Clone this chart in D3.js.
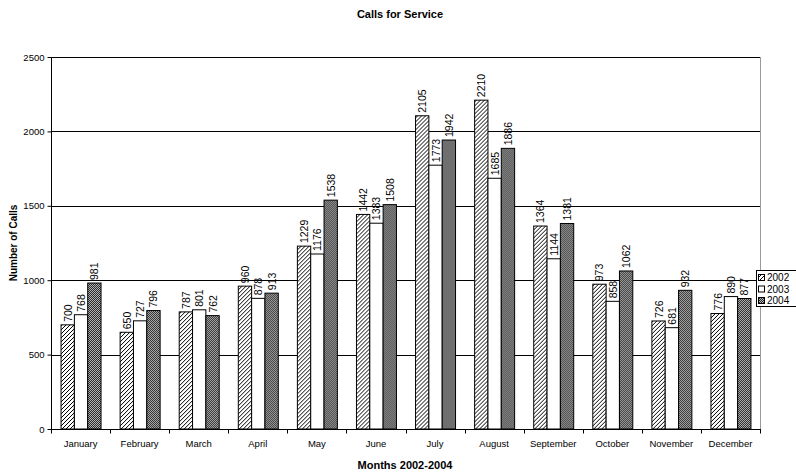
<!DOCTYPE html>
<html>
<head>
<meta charset="utf-8">
<script src="https://cdn.jsdelivr.net/npm/d3@7"></script>
<style>
  html, body { margin: 0; padding: 0; background: #fff; }
  svg { display: block; font-family: "Liberation Sans", Arial, sans-serif; }
</style>
</head>
<body>
<svg id="chart" width="796" height="476"></svg>
<script>
// Monthly calls for service, one series per year
const months = ["January", "February", "March", "April", "May", "June",
                "July", "August", "September", "October", "November", "December"];
const years = ["2002", "2003", "2004"];
const calls2002 = [700, 650, 787, 960, 1229, 1442, 2105, 2210, 1364, 973, 726, 776];
const calls2003 = [768, 727, 801, 878, 1176, 1383, 1773, 1685, 1144, 858, 681, 890];
const calls2004 = [981, 796, 762, 913, 1538, 1508, 1942, 1886, 1381, 1062, 932, 877];
const yTicks = [0, 500, 1000, 1500, 2000, 2500];

const series = [calls2002, calls2003, calls2004];

const svg = d3.select("#chart");
const plot = { left: 51, top: 57, right: 760, bottom: 429 };

// Fill patterns: diagonal hatch, plain white, dense dark dots
const defs = svg.append("defs");
const hatch = defs.append("pattern").attr("id", "hatch")
  .attr("patternUnits", "userSpaceOnUse").attr("width", 4).attr("height", 4);
hatch.append("rect").attr("width", 4).attr("height", 4).attr("fill", "#fff");
hatch.append("path").attr("d", "M-1,1 L1,-1 M0,4 L4,0 M3,5 L5,3")
  .attr("stroke", "#000").attr("stroke-width", 1);

const dots = defs.append("pattern").attr("id", "dots")
  .attr("patternUnits", "userSpaceOnUse").attr("width", 2).attr("height", 2);
dots.append("rect").attr("width", 2).attr("height", 2).attr("fill", "#b4b4b4");
dots.append("rect").attr("x", 0).attr("y", 0).attr("width", 1).attr("height", 1).attr("fill", "#2a2a2a");
dots.append("rect").attr("x", 1).attr("y", 1).attr("width", 1).attr("height", 1).attr("fill", "#2a2a2a");

const fills = ["url(#hatch)", "#fff", "url(#dots)"];

const x0 = d3.scaleBand().domain(months).range([plot.left, plot.right]).padding(0);
const groupW = x0.bandwidth();
const barW = groupW * 0.2256;
const x1 = d3.scaleBand().domain(d3.range(years.length))
  .range([(groupW - 3 * barW) / 2, (groupW + 3 * barW) / 2]).padding(0);
const y = d3.scaleLinear().domain([0, 2500]).range([plot.bottom, plot.top]);

// Gridlines
svg.append("g").selectAll("line").data(yTicks.filter(t => t > 0)).join("line")
  .attr("x1", plot.left).attr("x2", plot.right)
  .attr("y1", d => Math.round(y(d)) + 0.5).attr("y2", d => Math.round(y(d)) + 0.5)
  .attr("stroke", "#000").attr("stroke-width", 1);

// Plot area right edge
svg.append("line")
  .attr("x1", plot.right + 0.5).attr("x2", plot.right + 0.5)
  .attr("y1", plot.top).attr("y2", plot.bottom)
  .attr("stroke", "#9a9a9a").attr("stroke-width", 1);

// Bars
const groups = svg.append("g").selectAll("g").data(months).join("g")
  .attr("transform", d => `translate(${x0(d)},0)`);

groups.selectAll("rect")
  .data((m, i) => series.map((s, k) => ({ k, v: s[i] })))
  .join("rect")
  .attr("x", d => x1(d.k) + 0.5)
  .attr("y", d => y(d.v))
  .attr("width", x1.bandwidth())
  .attr("height", d => plot.bottom - y(d.v))
  .attr("fill", d => fills[d.k])
  .attr("stroke", "#000").attr("stroke-width", 1);

// Value labels
groups.selectAll("text")
  .data((m, i) => series.map((s, k) => ({ k, v: s[i] })))
  .join("text")
  .attr("transform", d => `translate(${x1(d.k) + x1.bandwidth() / 2 + 4.5},${y(d.v) - 3}) rotate(-90)`)
  .attr("font-size", 10.5).attr("fill", "#000")
  .text(d => d.v);

// Y axis
const yAxis = svg.append("g").attr("transform", `translate(${plot.left + 0.5},0)`)
  .call(d3.axisLeft(y).tickValues(yTicks).tickSize(4).tickPadding(3).tickFormat(d3.format("d")));
yAxis.select(".domain").attr("stroke", "#000").attr("d", `M0,${plot.top}V${plot.bottom + 0.5}`);
yAxis.selectAll(".tick line").attr("stroke", "#000");
yAxis.selectAll(".tick text").attr("font-size", 9.5).attr("fill", "#000")
  .attr("font-family", "Liberation Sans, Arial, sans-serif");

// X axis with ticks between month groups
const xAxisG = svg.append("g").attr("transform", `translate(0,${plot.bottom + 0.5})`);
xAxisG.append("line").attr("x1", plot.left).attr("x2", plot.right + 1)
  .attr("stroke", "#000");
xAxisG.selectAll("line.sep").data(d3.range(months.length + 1)).join("line")
  .attr("class", "sep")
  .attr("x1", i => Math.round(plot.left + i * groupW) + 0.5)
  .attr("x2", i => Math.round(plot.left + i * groupW) + 0.5)
  .attr("y1", 0).attr("y2", 4).attr("stroke", "#000");
xAxisG.selectAll("text").data(months).join("text")
  .attr("x", d => x0(d) + groupW / 2).attr("y", 17)
  .attr("text-anchor", "middle").attr("font-size", 9.5).attr("fill", "#000")
  .text(d => d);

// Titles
svg.append("text").attr("x", 400).attr("y", 18).attr("text-anchor", "middle")
  .attr("font-size", 11).attr("font-weight", "bold").text("Calls for Service");
svg.append("text").attr("x", 405).attr("y", 469).attr("text-anchor", "middle")
  .attr("font-size", 11).attr("font-weight", "bold").text("Months 2002-2004");
svg.append("text").attr("transform", "translate(17,243) rotate(-90)")
  .attr("text-anchor", "middle").attr("font-size", 10).attr("font-weight", "bold")
  .text("Number of Calls");

// Legend, open on its right side at the canvas edge
const legend = svg.append("g").attr("transform", "translate(756,270)");
legend.append("rect").attr("x", 0.5).attr("y", 0.5).attr("width", 60).attr("height", 36)
  .attr("fill", "#fff").attr("stroke", "#000");
years.forEach((yr, k) => {
  const row = legend.append("g").attr("transform", `translate(2,${4 + k * 11.5})`);
  row.append("rect").attr("x", 0.5).attr("y", 0.5).attr("width", 6).attr("height", 6)
    .attr("fill", fills[k]).attr("stroke", "#000");
  row.append("text").attr("x", 9).attr("y", 7).attr("font-size", 10).text(yr);
});
</script>
</body>
</html>
